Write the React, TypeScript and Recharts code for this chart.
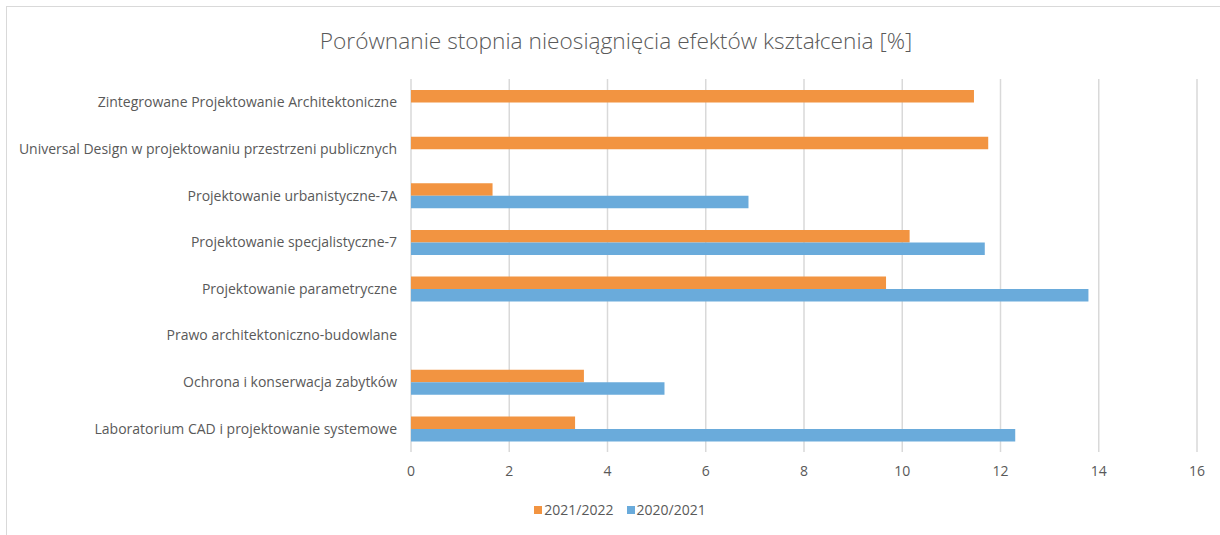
import React from "react"
import {
  Bar,
  BarChart,
  CartesianGrid,
  Legend,
  XAxis,
  YAxis,
} from "recharts"

const categories = [
  "Zintegrowane Projektowanie Architektoniczne",
  "Universal Design w projektowaniu przestrzeni publicznych",
  "Projektowanie urbanistyczne-7A",
  "Projektowanie specjalistyczne-7",
  "Projektowanie parametryczne",
  "Prawo architektoniczno-budowlane",
  "Ochrona i konserwacja zabytków",
  "Laboratorium CAD i projektowanie systemowe",
]

// null = brak danych dla danego roku
const values2122: (number | null)[] = [11.46, 11.75, 1.66, 10.15, 9.67, null, 3.52, 3.34]
const values2021: (number | null)[] = [null, null, 6.87, 11.68, 13.79, null, 5.16, 12.3]

const seriesNames = ["2021/2022", "2020/2021"]

const xTicks = [0, 2, 4, 6, 8, 10, 12, 14, 16]

const title = "Porównanie stopnia nieosiągnięcia efektów kształcenia [%]"

const ORANGE = "#F29441"
const BLUE = "#6AABDB"
const TEXT = "#595959"
const GRID = "#d9d9d9"

const seriesColors = [ORANGE, BLUE]

const data = categories.map((name, i) => ({
  name,
  [seriesNames[0]]: values2122[i],
  [seriesNames[1]]: values2021[i],
}))

const renderLegend = () => (
  <div
    style={{
      display: "flex",
      justifyContent: "center",
      gap: 13,
      fontSize: 14,
      color: TEXT,
      paddingLeft: 43,
    }}
  >
    {seriesNames.map((s, i) => (
      <span key={s} style={{ display: "flex", alignItems: "center", gap: 2 }}>
        <span
          style={{ width: 8, height: 8, background: seriesColors[i], display: "inline-block" }}
        />
        {s}
      </span>
    ))}
  </div>
)

export default function App() {
  return (
    <div
      style={{
        position: "absolute",
        left: 0,
        top: 0,
        width: 1220,
        height: 535,
        background: "#fff",
        fontFamily: "'Open Sans', sans-serif",
        overflow: "hidden",
      }}
    >
      {/* ramka wykresu */}
      <div
        style={{
          position: "absolute",
          left: 6,
          top: 6,
          width: 1240,
          height: 560,
          borderTop: `1.5px solid ${GRID}`,
          borderLeft: `1.5px solid ${GRID}`,
        }}
      />
      <div
        style={{
          position: "absolute",
          left: 0,
          top: 26,
          width: 1232,
          textAlign: "center",
          fontSize: 22.7,
          fontWeight: 300,
          color: TEXT,
          lineHeight: "30px",
        }}
      >
        {title}
      </div>
      <div style={{ position: "absolute", left: 0, top: 0 }}>
        <BarChart
          width={1220}
          height={535}
          data={data}
          layout="vertical"
          margin={{ top: 79, right: 23, bottom: 11, left: 0 }}
          barGap={0}
          barSize={12.5}
        >
          <CartesianGrid horizontal={false} stroke={GRID} strokeWidth={1.5} />
          <XAxis
            type="number"
            domain={[0, 16]}
            ticks={xTicks}
            axisLine={false}
            tickLine={false}
            tickSize={0}
            tickMargin={14}
            height={48}
            tick={{ fill: TEXT, fontSize: 14 }}
          />
          <YAxis
            type="category"
            dataKey="name"
            width={411}
            axisLine={false}
            tickLine={false}
            tickSize={0}
            tickMargin={14}
            tick={{ fill: TEXT, fontSize: 14 }}
          />
          <Legend verticalAlign="bottom" height={24} content={renderLegend} />
          {seriesNames.map((s, i) => (
            <Bar key={s} dataKey={s} fill={seriesColors[i]} isAnimationActive={false} />
          ))}
        </BarChart>
      </div>
    </div>
  )
}
